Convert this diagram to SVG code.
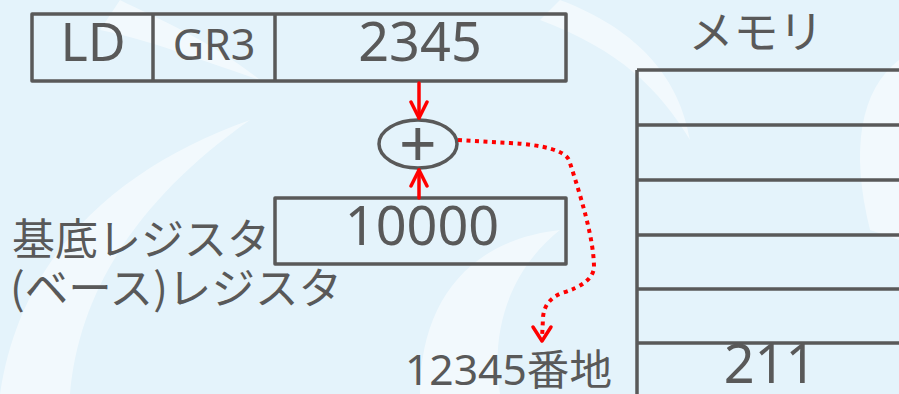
<svg xmlns="http://www.w3.org/2000/svg" width="899" height="394" viewBox="0 0 899 394">
<defs>
<style>
.bx{fill:none;stroke:#595959;stroke-width:3.5;stroke-linejoin:round}
.t{font-family:"Noto Sans","Noto Sans CJK JP",sans-serif;fill:#595959}
.j{font-family:"Noto Sans CJK JP","Noto Sans",sans-serif;fill:#595959}
.red{fill:none;stroke:#ff0000;stroke-width:3.5;stroke-linecap:round;stroke-linejoin:round}
.dot{fill:none;stroke:#ff0000;stroke-width:4;stroke-dasharray:4 4.5}
.wm{fill:#ffffff;opacity:0.5}
</style>
<marker id="ah" viewBox="0 0 20 20" refX="18" refY="10" markerWidth="20" markerHeight="20" markerUnits="userSpaceOnUse" orient="auto">
<path d="M2,2 L18,10 L2,18" fill="none" stroke="#ff0000" stroke-width="3.5" stroke-linecap="round" stroke-linejoin="round"/>
</marker>
</defs>
<rect width="899" height="394" fill="#e4f3fb"/>
<g id="watermark">
<path class="wm" d="M0,394 C20,260 110,170 250,120 C150,190 80,280 70,394 Z"/>
<path class="wm" d="M120,0 C160,20 210,40 260,80 C200,60 150,40 100,30 Z"/>
<path class="wm" d="M420,394 C420,300 470,240 560,230 C510,270 490,330 500,394 Z"/>
<path class="wm" d="M899,60 C860,90 850,150 870,230 L899,240 Z"/>
<path class="wm" d="M560,0 C640,30 680,80 690,140 C660,90 620,50 540,20 Z"/>
</g>
<g id="instruction">
<rect class="bx" x="32" y="14" width="534" height="67"/>
<line class="bx" x1="153" y1="14" x2="153" y2="81"/>
<line class="bx" x1="275" y1="14" x2="275" y2="81"/>
<text class="t" x="93" y="61" font-size="52" text-anchor="middle">LD</text>
<text class="t" x="214" y="60" font-size="43" text-anchor="middle">GR3</text>
<text class="t" x="420" y="61" font-size="54" text-anchor="middle">2345</text>
</g>
<g id="adder">
<ellipse class="bx" cx="418" cy="144" rx="39" ry="24"/>
<text class="t" x="418" y="167" font-size="66" text-anchor="middle">+</text>
</g>
<g id="base-register">
<rect class="bx" x="275" y="198" width="291" height="66"/>
<text class="t" x="422" y="245" font-size="54" text-anchor="middle">10000</text>
<text class="j" x="12" y="255" font-size="43">基底レジスタ</text>
<text class="j" x="10" y="304" font-size="43" textLength="332" lengthAdjust="spacingAndGlyphs">(ベース)レジスタ</text>
</g>
<g id="address">
<text class="t" x="405" y="385" font-size="42" textLength="207" lengthAdjust="spacingAndGlyphs">12345番地</text>
</g>
<g id="memory">
<text class="j" x="756" y="49" font-size="45" text-anchor="middle">メモリ</text>
<line class="bx" x1="637" y1="70" x2="637" y2="400"/>
<line class="bx" x1="637" y1="70" x2="905" y2="70"/>
<line class="bx" x1="637" y1="125" x2="905" y2="125"/>
<line class="bx" x1="637" y1="180" x2="905" y2="180"/>
<line class="bx" x1="637" y1="235" x2="905" y2="235"/>
<line class="bx" x1="637" y1="289" x2="905" y2="289"/>
<line class="bx" x1="637" y1="343" x2="905" y2="343"/>
<text class="t" x="770" y="383" font-size="54" text-anchor="middle">211</text>
</g>
<g id="connectors">
<line class="red" x1="419" y1="83" x2="419" y2="118" marker-end="url(#ah)"/>
<line class="red" x1="419" y1="198" x2="419" y2="170" marker-end="url(#ah)"/>
<path class="dot" d="M458,140 L510,143 Q562,146 569,160 C582,200 594,240 594,268 Q592,284 562,293 Q544,300 543,318 L542,339"/>
<path class="red" d="M533,327 L542,341 L551,327"/>
</g>
</svg>
